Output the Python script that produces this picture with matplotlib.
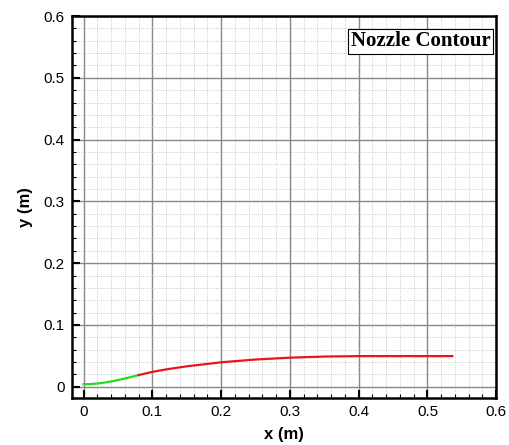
import matplotlib
matplotlib.use("Agg")
import matplotlib.pyplot as plt
from matplotlib.ticker import MultipleLocator

# nozzle contour
x_conv = [0.0, 0.01, 0.02, 0.03, 0.04, 0.05, 0.06, 0.07, 0.08]
y_conv = [0.0040, 0.0043, 0.0052, 0.0066, 0.0085, 0.0108, 0.0133, 0.0160, 0.0188]
x_div = [0.08, 0.1, 0.12, 0.15, 0.2, 0.25, 0.3, 0.35, 0.4, 0.45, 0.5, 0.536]
y_div = [0.0188, 0.0240, 0.0280, 0.0330, 0.0395, 0.0440, 0.0470, 0.0488, 0.0495, 0.0495, 0.0495, 0.0495]
ticks = [0, 0.1, 0.2, 0.3, 0.4, 0.5, 0.6]
tick_labels = ['0', '0.1', '0.2', '0.3', '0.4', '0.5', '0.6']

plt.rcParams['font.family'] = ['Liberation Sans', 'DejaVu Sans']

fig = plt.figure(figsize=(5.1, 4.45), dpi=100)
ax = fig.add_axes([0.141, 0.106, 0.832, 0.858])

ax.plot(x_conv, y_conv, color='#22dd22', lw=1.6)
ax.plot(x_div, y_div, color='#e8141e', lw=1.6)

ax.set_xlim(-0.017, 0.6)
ax.set_ylim(-0.018, 0.6)
ax.set_xticks(ticks)
ax.set_xticklabels(tick_labels)
ax.set_yticks(ticks)
ax.set_yticklabels(tick_labels)
ax.xaxis.set_minor_locator(MultipleLocator(0.02))
ax.yaxis.set_minor_locator(MultipleLocator(0.02))

ax.grid(True, which='major', color='#888888', lw=1.0, ls='-')
ax.grid(True, which='minor', color='#bbbbbb', lw=0.6, ls=':')
ax.tick_params(which='major', direction='in', length=6, width=1.5, labelsize=11, pad=5)
ax.tick_params(which='minor', direction='in', length=3, width=0.8)
for s in ax.spines.values():
    s.set_linewidth(1.8)

ax.set_xlabel('x (m)', fontsize=12, fontweight='bold', labelpad=6)
ax.set_ylabel('y (m)', fontsize=12, fontweight='bold', labelpad=8)

ax.text(0.987, 0.934, 'Nozzle Contour', transform=ax.transAxes, ha='right', va='center',
        fontsize=15, fontweight='bold', family='Liberation Serif',
        bbox=dict(facecolor='white', edgecolor='black', lw=0.8, boxstyle='square,pad=0.12'))

fig.savefig('out.png', dpi=100)
